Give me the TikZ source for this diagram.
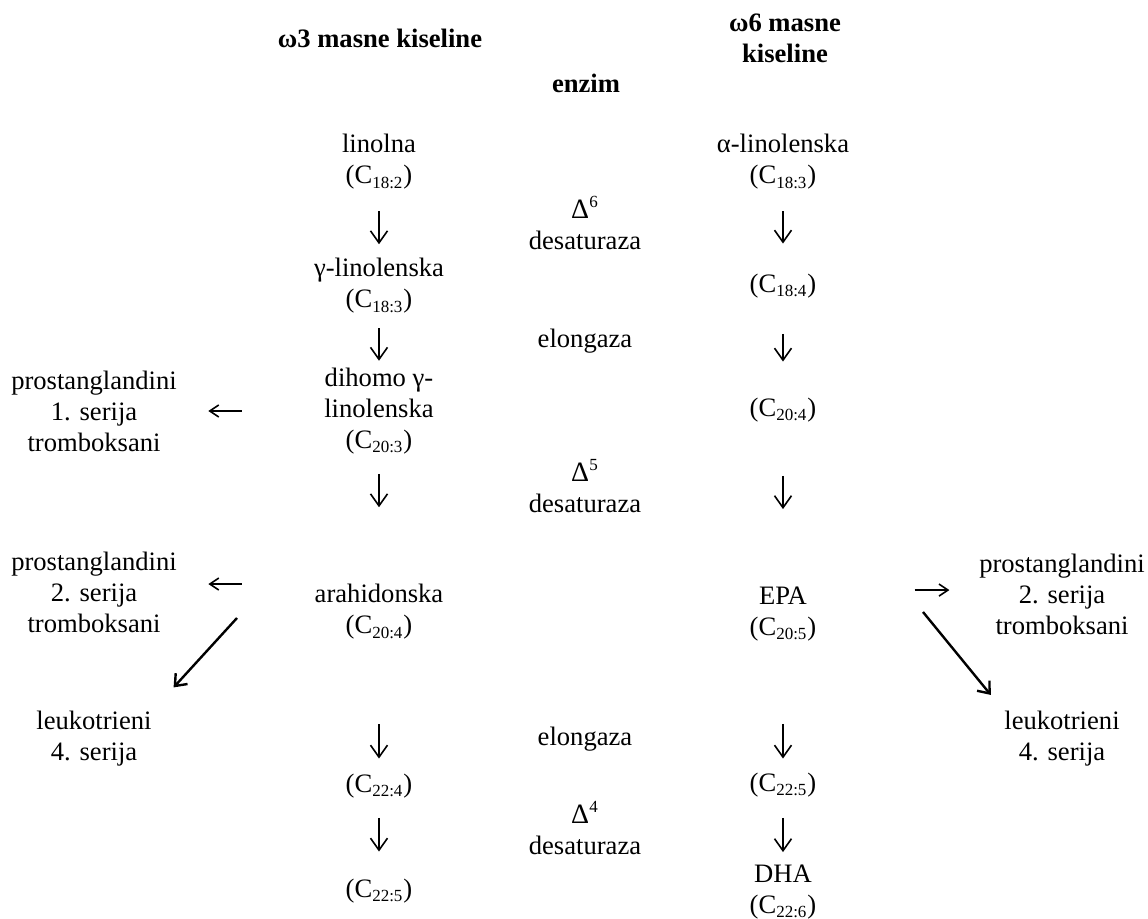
\documentclass[tikz,border=0pt]{standalone}
\usepackage{fontspec}
\setmainfont{Liberation Serif}
\usetikzlibrary{arrows.meta}
\newcommand{\fachain}[1]{(C\textsubscript{\fontsize{8.5}{9}\selectfont #1})}
\newcommand{\delsup}[1]{{\fontsize{14}{16}\selectfont Δ}\textsuperscript{\fontsize{8.5}{9}\selectfont #1}}

\begin{document}
\begin{tikzpicture}[x=0.5pt,y=-0.5pt,
  every node/.style={inner sep=0pt,align=center,font=\fontsize{13.3}{15.5}\selectfont},
  dn/.style={-{Straight Barb[length=6pt,width=8.5pt]},line width=0.8pt},
  side/.style={-{Straight Barb[length=4.5pt,width=6pt]},line width=0.8pt},
  diag/.style={-{Straight Barb[length=5pt,width=8pt]},line width=1.2pt}]

\useasboundingbox (0,0) rectangle (1148,919);

% headings
\node (t3) at (380,38) {\textbf{ω3 masne kiseline}};
\node (t6) at (785,38.5) {\textbf{ω6 masne}\\\textbf{kiseline}};
\node (enz) at (586,83) {\textbf{enzim}};

% left chain
\node (lin) at (379,162) {linolna\\\fachain{18:2}};
\node (gla) at (379,286) {γ-linolenska\\\fachain{18:3}};
\node (dgla) at (379,411) {dihomo γ-\\linolenska\\\fachain{20:3}};
\node (ara) at (379,612) {arahidonska\\\fachain{20:4}};
\node (c224) at (379,786) {\fachain{22:4}};
\node (c225l) at (379,891) {\fachain{22:5}};

% right chain
\node (ala) at (783,162) {α-linolenska\\\fachain{18:3}};
\node (c184) at (783,286) {\fachain{18:4}};
\node (c204) at (783,410) {\fachain{20:4}};
\node (epa) at (783,614) {EPA\\\fachain{20:5}};
\node (c225r) at (783,785) {\fachain{22:5}};
\node (dha) at (783,892) {DHA\\\fachain{22:6}};

% enzymes
\node (d6) at (585,223) {\delsup{6}\\desaturaza};
\node (el1) at (585,341) {elongaza};
\node (d5) at (585,486) {\delsup{5}\\desaturaza};
\node (el2) at (585,739) {elongaza};
\node (d4) at (585,828) {\delsup{4}\\desaturaza};

% products
\node (pg1) at (94,411) {prostanglandini\\1. serija\\tromboksani};
\node (pg2l) at (94,592) {prostanglandini\\2. serija\\tromboksani};
\node (lt1) at (94,739) {leukotrieni\\4. serija};
\node (pg2r) at (1062,594) {prostanglandini\\2. serija\\tromboksani};
\node (lt2) at (1062,739) {leukotrieni\\4. serija};

\coordinate (araout) at (237,618);
\coordinate (epaout) at (923,612);

\draw[dn,shorten <=10.7pt,shorten >=6.9pt] (lin) -- (gla);
\draw[dn,shorten <=7.2pt,shorten >=3.4pt] (gla) -- (dgla);
\draw[dn,shorten <=9.7pt,shorten >=38.4pt] (dgla) -- (ara);
\draw[dn,shorten <=42.2pt,shorten >=7.5pt] (ara) -- (c224);
\draw[dn,shorten <=9.7pt,shorten >=13.5pt] (c224) -- (c225l);

\draw[dn,shorten <=10.7pt,shorten >=15pt] (ala) -- (c184);
\draw[dn,shorten <=17.7pt,shorten >=18pt] (c184) -- (c204);
\draw[dn,shorten <=26.7pt,shorten >=38.7pt] (c204) -- (epa);
\draw[dn,shorten <=41.2pt,shorten >=7pt] (epa) -- (c225r);
\draw[dn,shorten <=10.2pt,shorten >=6.2pt] (c225r) -- (dha);

\draw[side,shorten <=41.2pt,shorten >=15.6pt] (dgla) -- (pg1);
\draw[side,shorten <=36.4pt,shorten >=15.6pt] (ara.north west) -- (ara.north west -| pg2l.east);
\draw[side,shorten <=48.9pt,shorten >=14.7pt] ([yshift=-1.8pt]epa.north east) -- ([yshift=-1.8pt]epa.north east -| pg2r.west);

\draw[diag,shorten >=16pt] (araout) -- (lt1.north east);
\draw[diag,shorten >=10.4pt] (epaout) -- (lt2.north west);
\end{tikzpicture}
\end{document}
